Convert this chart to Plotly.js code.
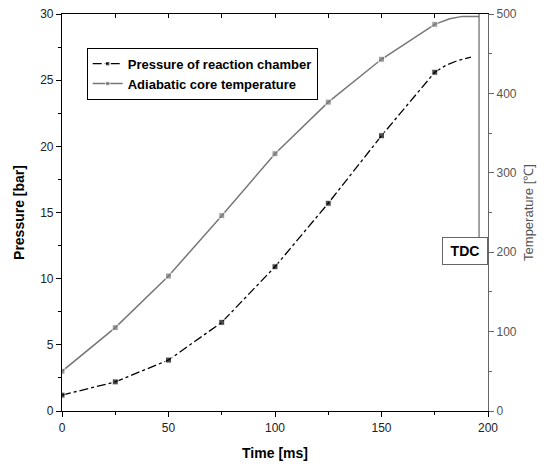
<!DOCTYPE html>
<html><head><meta charset="utf-8">
<script src="https://cdn.plot.ly/plotly-3.0.1.min.js"></script>
<style>body{margin:0;background:#fff}#c{width:548px;height:466px}</style>
</head><body><div id="c"></div>
<script>
var pressureTime = [0, 25, 50, 75, 100, 125, 150, 175, 180, 186, 192];
var pressureBar  = [1.2, 2.2, 3.85, 6.7, 10.9, 15.7, 20.8, 25.6, 26.1, 26.5, 26.75];
var pressureMarkerSize = [6,6,6,6,6,6,6,6,0,0,0];
var tempTime = [0, 25, 50, 75, 100, 125, 150, 175, 182, 188, 195.8];
var tempC    = [50, 105, 170, 246, 324, 389, 443, 487, 494, 497, 497];
var tempMarkerSize = [6,6,6,6,6,6,6,6,0,0,0];
var xTicks = [0, 50, 100, 150, 200];
var pTicks = [0, 5, 10, 15, 20, 25, 30];
var tTicks = [0, 100, 200, 300, 400, 500];
var tdcTime = 195.8;

var font = "Liberation Sans, Arial, sans-serif";
var traces = [
  {x: pressureTime, y: pressureBar, name: 'Pressure of reaction chamber', mode: 'lines+markers',
   line: {color: '#000', width: 1.3, dash: 'dashdot'},
   marker: {symbol: 'square', size: pressureMarkerSize, color: '#000'}, xaxis: 'x', yaxis: 'y'},
  {x: tempTime, y: tempC, name: 'Adiabatic core temperature', mode: 'lines+markers',
   line: {color: '#777', width: 1.5},
   marker: {symbol: 'square', size: tempMarkerSize, color: '#777'}, xaxis: 'x', yaxis: 'y2'},
  {x: [0, 200], y: [null, null], xaxis: 'x3', yaxis: 'y', showlegend: false, hoverinfo: 'skip'}
];
var layout = {
  width: 548, height: 466,
  margin: {l: 62, r: 60, t: 14, b: 55},
  paper_bgcolor: '#fff', plot_bgcolor: '#fff',
  showlegend: true,
  legend: {x: 0.058, y: 0.915, xanchor: 'left', yanchor: 'top', bgcolor: '#fff',
           bordercolor: '#000', borderwidth: 1, font: {family: font, size: 13, color: '#000', weight: 'bold'},
           itemwidth: 30, tracegroupgap: 0},
  xaxis: {range: [0, 200], tickvals: xTicks, ticks: 'outside', ticklen: 5, tickcolor: '#000',
          showline: true, linecolor: '#000', linewidth: 1.2, showgrid: false, zeroline: false,
          minor: {dtick: 25, ticks: 'outside', ticklen: 3, tickcolor: '#000'},
          tickfont: {family: font, size: 12, color: '#222'},
          title: {text: 'Time [ms]', font: {family: font, size: 14, color: '#000', weight: 'bold'}, standoff: 14}},
  xaxis3: {range: [0, 200], overlaying: 'x', side: 'top', dtick: 25, tick0: 0, ticks: 'inside', ticklen: 4,
           tickcolor: '#000', showticklabels: false, showline: true, linecolor: '#000', linewidth: 1.2,
           showgrid: false, zeroline: false},
  yaxis: {range: [0, 30], tickvals: pTicks, ticks: 'outside', ticklen: 5, tickcolor: '#000',
          showline: true, linecolor: '#000', linewidth: 1.2, showgrid: false, zeroline: false,
          minor: {dtick: 2.5, ticks: 'outside', ticklen: 3, tickcolor: '#000'},
          tickfont: {family: font, size: 12, color: '#222'},
          title: {text: 'Pressure [bar]', font: {family: font, size: 14, color: '#000', weight: 'bold'}, standoff: 12}},
  yaxis2: {range: [0, 500], tickvals: tTicks, overlaying: 'y', side: 'right', ticks: 'outside', ticklen: 5,
           tickcolor: '#666', showline: true, linecolor: '#666', linewidth: 1.2, showgrid: false, zeroline: false,
           minor: {dtick: 50, ticks: 'outside', ticklen: 3, tickcolor: '#666'},
           tickfont: {family: font, size: 12, color: '#555'},
           title: {text: 'Temperature [\u2103]', font: {family: font, size: 13, color: '#555'}, standoff: 8}},
  shapes: [
    {type: 'line', xref: 'x', yref: 'y', x0: tdcTime, x1: tdcTime, y0: 13.1, y1: 30,
     line: {color: '#666', width: 1.2}}
  ],
  annotations: [
    {x: 189.3, y: 12.1, xref: 'x', yref: 'y', text: 'TDC', showarrow: false,
     font: {family: font, size: 14, color: '#000', weight: 'bold'},
     bordercolor: '#666', borderwidth: 1, borderpad: 4, bgcolor: '#fff', width: 36, height: 18}
  ]
};
Plotly.newPlot('c', traces, layout, {displayModeBar: false});
</script></body></html>
